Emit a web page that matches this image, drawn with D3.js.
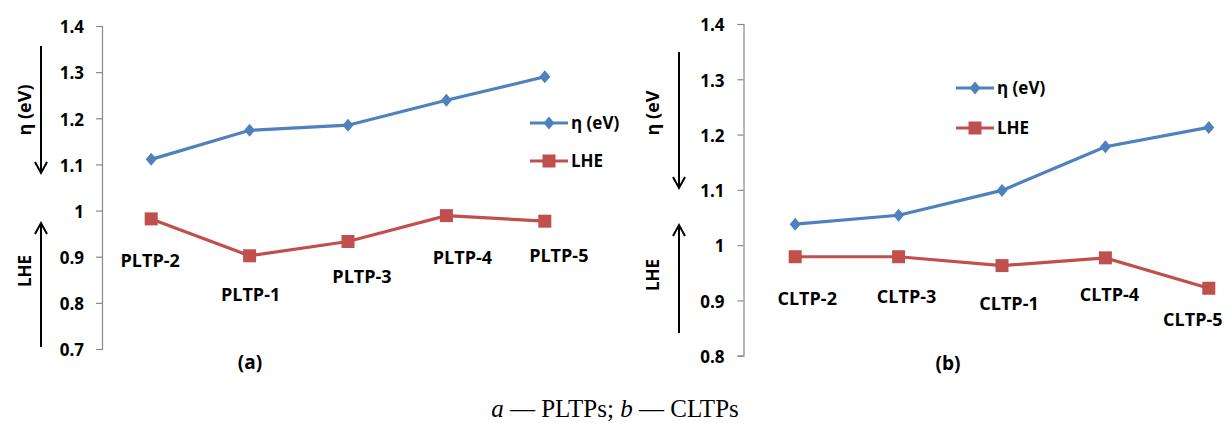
<!DOCTYPE html>
<html><head><meta charset="utf-8">
<script src="https://cdn.jsdelivr.net/npm/d3@7"></script>
<style>
body{margin:0;background:#fff;}
svg{display:block;}
text{font-family:"Open Sans",sans-serif;}
</style></head>
<body>
<svg id="c" width="1225" height="423"></svg>
<script>
// ---- data ----
const catsA = ["PLTP-2","PLTP-1","PLTP-3","PLTP-4","PLTP-5"];
const etaA  = [1.111, 1.174, 1.185, 1.239, 1.290];
const lheA  = [0.982, 0.902, 0.933, 0.989, 0.977];
const ticksA = [0.7,0.8,0.9,1.0,1.1,1.2,1.3,1.4];
const tickLabelsA = ["0.7","0.8","0.9","1","1.1","1.2","1.3","1.4"];

const catsB = ["CLTP-2","CLTP-3","CLTP-1","CLTP-4","CLTP-5"];
const etaB  = [1.038, 1.054, 1.099, 1.178, 1.213];
const lheB  = [0.979, 0.979, 0.963, 0.977, 0.922];
const ticksB = [0.8,0.9,1.0,1.1,1.2,1.3,1.4];
const tickLabelsB = ["0.8","0.9","1","1.1","1.2","1.3","1.4"];

const seriesNames = ["η (eV)", "LHE"];
const panelLabels = ["(a)", "(b)"];

// ---- layout / style ----
const BLUE = "#4F81BD", RED = "#C0504D", AXIS = "#898989";
const svg = d3.select("#c");
const DIAMOND = "M0,-6.5L5.5,0L0,6.5L-5.5,0Z";

function panel(cfg){
  const g = svg.append("g");
  const x = d3.scaleBand().domain(cfg.cats).range(cfg.xr);
  const y = d3.scaleLinear().domain(cfg.yd).range(cfg.yr);
  const cx = c => x(c) + x.bandwidth()/2;

  // y axis
  const ax = g.append("g").attr("transform",`translate(${cfg.xr[0]},0)`)
    .call(d3.axisLeft(y).tickValues(cfg.ticks).tickSize(6).tickPadding(cfg.pad)
      .tickFormat((d,i)=>cfg.tickLabels[i]));
  ax.select(".domain").attr("stroke",AXIS).attr("stroke-width",1.2);
  ax.selectAll(".tick line").attr("stroke",AXIS).attr("stroke-width",1.2);
  ax.selectAll(".tick text").attr("font-size",17).attr("font-weight","bold")
    .attr("fill","#000").attr("font-family","'Open Sans',sans-serif").attr("dy","0.4em");

  const line = d3.line().x((d,i)=>cx(cfg.cats[i])).y(d=>y(d));
  // eta
  g.append("path").datum(cfg.eta).attr("d",line).attr("fill","none")
    .attr("stroke",BLUE).attr("stroke-width",3.2);
  g.selectAll(".dmk").data(cfg.eta).enter().append("path")
    .attr("transform",(d,i)=>`translate(${cx(cfg.cats[i])},${y(d)})`)
    .attr("d",DIAMOND).attr("fill",BLUE);
  // lhe
  g.append("path").datum(cfg.lhe).attr("d",line).attr("fill","none")
    .attr("stroke",RED).attr("stroke-width",3.2);
  g.selectAll(".sq").data(cfg.lhe).enter().append("rect")
    .attr("x",(d,i)=>cx(cfg.cats[i])-6.5).attr("y",d=>y(d)-6.5)
    .attr("width",13).attr("height",13).attr("fill",RED);

  // category labels (near LHE points)
  g.selectAll(".cl").data(cfg.cats).enter().append("text")
    .attr("x",(c,i)=>cx(c)+cfg.labOff[i][0]).attr("y",(c,i)=>y(cfg.lhe[i])+cfg.labOff[i][1])
    .attr("text-anchor","middle").attr("dy","0.36em")
    .attr("font-size",18).attr("font-weight","bold").text(c=>c);

  // legend
  cfg.legY.forEach((ly,i)=>{
    const col = i===0?BLUE:RED;
    g.append("line").attr("x1",cfg.legX).attr("x2",cfg.legX+38).attr("y1",ly).attr("y2",ly)
      .attr("stroke",col).attr("stroke-width",3.2);
    const mx = cfg.legX+19;
    if(i===0) g.append("path").attr("transform",`translate(${mx},${ly})`)
      .attr("d",DIAMOND).attr("fill",col);
    else g.append("rect").attr("x",mx-6.5).attr("y",ly-6.5).attr("width",13).attr("height",13).attr("fill",col);
    g.append("text").attr("x",cfg.legX+41).attr("y",ly).attr("dy","0.36em")
      .attr("font-size",17).attr("font-weight","bold").text(seriesNames[i]);
  });

  // axis titles with arrows
  g.append("text").attr("transform",`translate(${cfg.titleX},${cfg.t1y}) rotate(-90)`)
    .attr("text-anchor","middle").attr("dy","0.36em").attr("font-size",18).attr("font-weight","bold")
    .text(cfg.t1);
  g.append("text").attr("transform",`translate(${cfg.titleX},${cfg.t2y}) rotate(-90)`)
    .attr("text-anchor","middle").attr("dy","0.36em").attr("font-size",17).attr("font-weight","bold")
    .text(seriesNames[1]);
  const a = cfg.arrowX;
  g.append("line").attr("x1",a).attr("x2",a).attr("y1",cfg.down[0]).attr("y2",cfg.down[1])
    .attr("stroke","#000").attr("stroke-width",2);
  g.append("path").attr("d",`M${a-6},${cfg.down[1]-11}L${a},${cfg.down[1]}L${a+6},${cfg.down[1]-11}`)
    .attr("fill","none").attr("stroke","#000").attr("stroke-width",2);
  g.append("line").attr("x1",a).attr("x2",a).attr("y1",cfg.up[0]).attr("y2",cfg.up[1])
    .attr("stroke","#000").attr("stroke-width",2);
  g.append("path").attr("d",`M${a-6},${cfg.up[1]+11}L${a},${cfg.up[1]}L${a+6},${cfg.up[1]+11}`)
    .attr("fill","none").attr("stroke","#000").attr("stroke-width",2);

  // panel label
  g.append("text").attr("x",cfg.plX).attr("y",cfg.plY).attr("text-anchor","middle").attr("dy","0.36em")
    .attr("font-size",19).attr("font-weight","bold").text(cfg.pl);
}

panel({cats:catsA, eta:etaA, lhe:lheA, ticks:ticksA, tickLabels:tickLabelsA,
  xr:[102,594], yd:[0.7,1.4], yr:[349,26], pad:12,
  labOff:[[-1,42],[1,39],[14,35],[16,42],[14,34]],
  legX:530, legY:[123,161],
  titleX:25, t1y:110, t1:seriesNames[0], t2y:271,
  arrowX:41, down:[46,173], up:[347,223],
  plX:250, plY:362, pl:panelLabels[0]});

panel({cats:catsB, eta:etaB, lhe:lheB, ticks:ticksB, tickLabels:tickLabelsB,
  xr:[743.5,1260.5], yd:[0.8,1.4], yr:[355.7,24], pad:13,
  labOff:[[12,42],[8,40],[7,38],[4,37],[-16,31]],
  legX:956, legY:[88,128],
  titleX:653, t1y:113, t1:"η (eV", t2y:275,
  arrowX:679, down:[52,188], up:[333,225],
  plX:948, plY:363, pl:panelLabels[1]});

// caption
const cap = svg.append("text").attr("x",615).attr("y",417).attr("text-anchor","middle")
  .style("font-family","'Liberation Serif','Times New Roman',serif").style("font-size","25px");
cap.append("tspan").style("font-style","italic").text("a");
cap.append("tspan").text(" — PLTPs; ");
cap.append("tspan").style("font-style","italic").text("b");
cap.append("tspan").text(" — CLTPs");
</script>
</body></html>
